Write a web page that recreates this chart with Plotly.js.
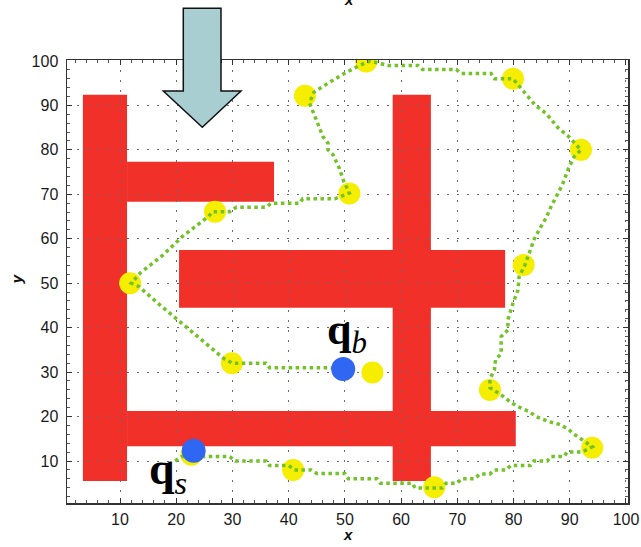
<!DOCTYPE html>
<html>
<head>
<meta charset="utf-8">
<script src="https://cdn.plot.ly/plotly-3.0.1.min.js"></script>
<style>html,body{margin:0;padding:0;background:#fff;}#chart{width:641px;height:547px;}</style>
</head>
<body>
<div id="chart"></div>
<script>
// Obstacles (rectangles, data units)
const obsX0 = [3.4, 11.25, 20.5, 58.5, 11.25];
const obsX1 = [11.25, 37.4, 78.5, 65.3, 80.4];
const obsY0 = [5.5, 68.3, 44.5, 5.5, 13.3];
const obsY1 = [92.4, 77.3, 57.5, 92.4, 21.25];

// Waypoints (yellow)
const wayX = [22.7, 11.8, 26.9, 50.8, 42.9, 53.8, 79.9, 92.0, 81.8, 75.8, 94.0, 65.9, 40.8, 29.9, 54.9];
const wayY = [11.4, 50.0, 66.1, 70.2, 92.2, 99.9, 96.0, 80.0, 54.1, 26.0, 13.0, 4.1, 8.0, 32.0, 29.9];

// Start / goal points (blue)
const qX = [23.1, 49.7];
const qY = [12.3, 30.7];
const qLabels = ['<b>q</b><sub><i>s</i></sub>', '<b>q</b><sub><i>b</i></sub>'];

// Planned path (green dotted)
const pathX = [19.8, 21, 29.5, 30.5, 36, 36.6, 40, 41, 44, 45, 50, 50.6, 55.7, 56.3, 62, 62.5, 67.3, 68, 70, 70.7, 73.1, 74, 75.8, 76.6, 78.7, 79.5, 83, 83.6, 86, 86.6, 89, 89.5, 92.2, 94,
  92.3, 90.8, 89.6, 88, 86.4, 84, 82.8, 81, 79.6, 78.1, 75.8, 75.8, 76.6, 76.8, 77.8, 77.8, 79, 79, 79.9, 80.8, 81, 82,
  82.8, 83.7, 84.9, 85.8, 86.7, 87.9, 88.7, 89.8, 90.8, 92,
  89.8, 87.9, 85.8, 83.9, 81.8, 80.5, 79.9, 76.6, 76, 70.7, 69.8, 63.8, 63, 57.6, 54.5,
  52.6, 49.9, 47, 44.5, 43.7, 44.9, 46.1, 47, 47, 47.9, 49, 49.8, 50.8,
  48.2, 42.5, 42, 36.9, 36, 30.7, 29.5, 26.5, 25.7, 21, 17.7, 13.6, 12,
  13.3, 17.1, 21, 25.7, 28.4, 30, 36, 36.6, 47.3, 49.7];
const pathY = [10, 11, 11, 10, 10, 9, 9, 8, 8, 7.2, 7.2, 6, 6, 5, 5, 3.9, 3.9, 5, 5, 6, 6, 7.1, 7.1, 8, 8, 9, 9, 10, 10, 11, 11, 12, 12, 13.2,
  14.7, 16, 17.3, 18.3, 18.8, 20, 21.1, 22.1, 23.1, 24.6, 26.5, 28.5, 30.5, 32.7, 34.2, 38, 39.5, 41.8, 45.5, 48.5, 51.5, 54,
  56.8, 60, 62.8, 64.7, 67.3, 70.3, 72.2, 75.9, 78.5, 80,
  83, 85, 88.2, 90, 93.2, 95, 96, 96, 97.2, 97.2, 98.1, 98.1, 99, 99, 100,
  99, 97.2, 95, 93, 90.6, 86.8, 83, 81.5, 80, 78.9, 75.9, 72.9, 70.3,
  69, 69, 68, 68, 67.1, 67.1, 66.1, 66.1, 65, 60.4, 56.4, 52.3, 50,
  49.3, 45.1, 41, 36.1, 33.1, 32, 32, 31, 31, 30.7];

const tickVals = [10, 20, 30, 40, 50, 60, 70, 80, 90, 100];
const tickText = ['10', '20', '30', '40', '50', '60', '70', '80', '90', '100'];

const shapes = obsX0.map((x0, i) => ({
  type: 'rect', xref: 'x', yref: 'y', layer: 'below',
  x0: x0, x1: obsX1[i], y0: obsY0[i], y1: obsY1[i],
  fillcolor: '#f1302a', line: {width: 0}
}));
// Arrow (paper coordinates)
shapes.push({
  type: 'path', xref: 'paper', yref: 'paper', layer: 'above',
  path: 'M0.2073,1.1167 L0.2745,1.1167 L0.2745,0.930 L0.3102,0.930 L0.2412,0.8481 L0.1717,0.930 L0.2073,0.930 Z',
  fillcolor: '#a9ced2', line: {color: '#111', width: 1.5}
});

const traces = [
  {x: wayX, y: wayY, type: 'scatter', mode: 'markers',
   marker: {size: 22, color: '#f6ee00'}, hoverinfo: 'skip', showlegend: false},
  {x: pathX, y: pathY, type: 'scatter', mode: 'lines',
   line: {color: '#72c326', width: 3.5, dash: 'dot'}, hoverinfo: 'skip', showlegend: false},
  {x: qX, y: qY, type: 'scatter', mode: 'markers',
   marker: {size: 24, color: '#2f66f2'}, hoverinfo: 'skip', showlegend: false}
];

const labelPos = [[18.6, 7.6], [50.3, 39.0]];
const labelSize = [46, 44];
const annotations = qLabels.map((t, i) => ({
  text: t, x: labelPos[i][0], y: labelPos[i][1], xref: 'x', yref: 'y',
  xanchor: 'center', yanchor: 'middle',
  showarrow: false, font: {family: 'Liberation Serif, DejaVu Serif, serif', size: labelSize[i], color: '#000'}
}));
const axisTitleFont = {family: 'Liberation Sans, Arial, sans-serif', size: 15, color: '#111'};
annotations.push({text: '<b><i>x</i></b>', xref: 'paper', yref: 'paper', x: 0.5, y: -0.072,
  xanchor: 'center', yanchor: 'middle', showarrow: false, font: axisTitleFont});
annotations.push({text: '<b><i>y</i></b>', xref: 'paper', yref: 'paper', x: -0.091, y: 0.505, textangle: -90,
  xanchor: 'center', yanchor: 'middle', showarrow: false, font: axisTitleFont});
annotations.push({text: '<b><i>x</i></b>', xref: 'paper', yref: 'paper', x: 0.503, y: 1.1375,
  xanchor: 'center', yanchor: 'middle', showarrow: false, font: axisTitleFont});

const axisCommon = {
  tickvals: tickVals, ticktext: tickText,
  showgrid: true, gridcolor: '#6a6a6a', gridwidth: 1, griddash: '2px,8px',
  zeroline: false, showline: true, linecolor: '#333', linewidth: 1.5, mirror: 'ticks',
  ticks: 'inside', ticklen: 5, tickcolor: '#333', tickwidth: 1,
  minor: {dtick: 2, tick0: 0, ticks: 'inside', ticklen: 3, tickcolor: '#555', showgrid: false},
  tickfont: {family: 'Liberation Sans, Arial, sans-serif', size: 16, color: '#1a1a1a'},
  fixedrange: true
};

const layout = {
  width: 641, height: 547,
  margin: {l: 67, r: 13, t: 60, b: 44, pad: 0},
  paper_bgcolor: '#ffffff', plot_bgcolor: '#ffffff',
  xaxis: Object.assign({}, axisCommon, {range: [0.57, 100.36], ticklabelstandoff: 1}),
  yaxis: Object.assign({}, axisCommon, {range: [0.55, 100.22], ticklabelstandoff: 4}),
  shapes: shapes,
  annotations: annotations,
  showlegend: false
};

Plotly.newPlot('chart', traces, layout, {displayModeBar: false, staticPlot: true});
</script>
</body>
</html>
